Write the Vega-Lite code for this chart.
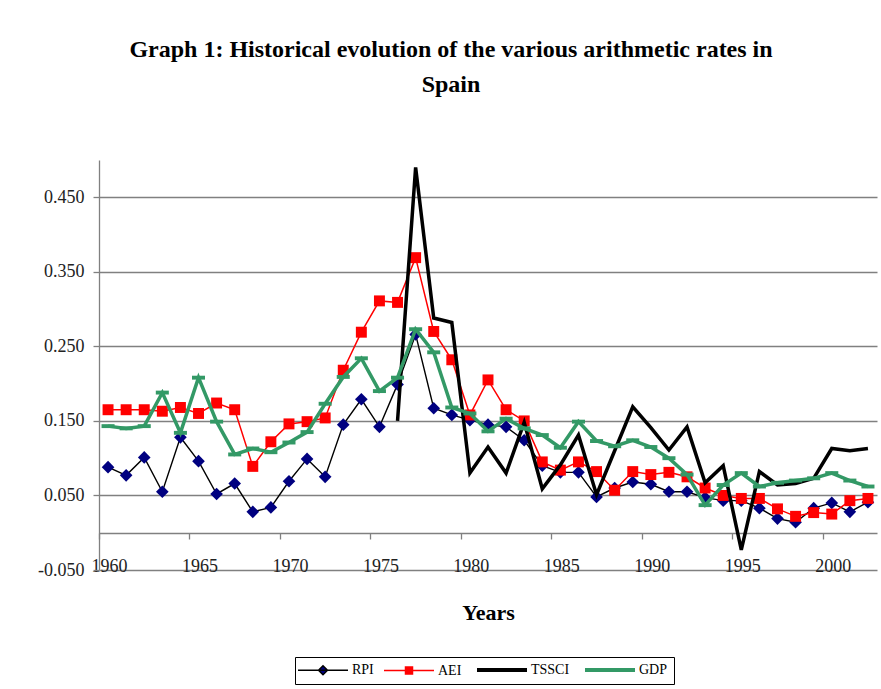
{
  "$schema": "https://vega.github.io/schema/vega-lite/v6.json",
  "width": 778,
  "height": 410,
  "autosize": {"type": "none"},
  "padding": {"left": 99, "top": 160, "right": 4, "bottom": 119},
  "background": "white",
  "title": {
    "text": ["Graph 1: Historical evolution of the various arithmetic rates in", "Spain"],
    "font": "Liberation Serif", "fontSize": 24, "fontWeight": "bold", "color": "#000000",
    "anchor": "middle", "frame": "group", "dx": -37, "offset": 63, "lineHeight": 35
  },
  "config": {"view": {"stroke": null}},
  "data": {
    "values": [
      {"year": 1960, "RPI": 0.088, "AEI": 0.165, "TSSCI": null, "GDP": 0.143},
      {"year": 1961, "RPI": 0.077, "AEI": 0.165, "TSSCI": null, "GDP": 0.140},
      {"year": 1962, "RPI": 0.101, "AEI": 0.165, "TSSCI": null, "GDP": 0.143},
      {"year": 1963, "RPI": 0.055, "AEI": 0.163, "TSSCI": null, "GDP": 0.188},
      {"year": 1964, "RPI": 0.128, "AEI": 0.168, "TSSCI": null, "GDP": 0.134},
      {"year": 1965, "RPI": 0.096, "AEI": 0.160, "TSSCI": null, "GDP": 0.208},
      {"year": 1966, "RPI": 0.052, "AEI": 0.174, "TSSCI": null, "GDP": 0.149},
      {"year": 1967, "RPI": 0.066, "AEI": 0.165, "TSSCI": null, "GDP": 0.105},
      {"year": 1968, "RPI": 0.028, "AEI": 0.089, "TSSCI": null, "GDP": 0.113},
      {"year": 1969, "RPI": 0.034, "AEI": 0.122, "TSSCI": null, "GDP": 0.108},
      {"year": 1970, "RPI": 0.069, "AEI": 0.146, "TSSCI": null, "GDP": 0.121},
      {"year": 1971, "RPI": 0.099, "AEI": 0.149, "TSSCI": null, "GDP": 0.135},
      {"year": 1972, "RPI": 0.075, "AEI": 0.154, "TSSCI": null, "GDP": 0.173},
      {"year": 1973, "RPI": 0.145, "AEI": 0.218, "TSSCI": null, "GDP": 0.209},
      {"year": 1974, "RPI": 0.179, "AEI": 0.269, "TSSCI": null, "GDP": 0.234},
      {"year": 1975, "RPI": 0.142, "AEI": 0.311, "TSSCI": null, "GDP": 0.190},
      {"year": 1976, "RPI": 0.199, "AEI": 0.309, "TSSCI": 0.150, "GDP": 0.208},
      {"year": 1977, "RPI": 0.266, "AEI": 0.369, "TSSCI": 0.490, "GDP": 0.273},
      {"year": 1978, "RPI": 0.167, "AEI": 0.270, "TSSCI": 0.288, "GDP": 0.242},
      {"year": 1979, "RPI": 0.158, "AEI": 0.232, "TSSCI": 0.282, "GDP": 0.168},
      {"year": 1980, "RPI": 0.151, "AEI": 0.158, "TSSCI": 0.080, "GDP": 0.160},
      {"year": 1981, "RPI": 0.145, "AEI": 0.205, "TSSCI": 0.115, "GDP": 0.136},
      {"year": 1982, "RPI": 0.142, "AEI": 0.165, "TSSCI": 0.080, "GDP": 0.153},
      {"year": 1983, "RPI": 0.124, "AEI": 0.150, "TSSCI": 0.148, "GDP": 0.140},
      {"year": 1984, "RPI": 0.090, "AEI": 0.095, "TSSCI": 0.059, "GDP": 0.131},
      {"year": 1985, "RPI": 0.081, "AEI": 0.084, "TSSCI": 0.091, "GDP": 0.114},
      {"year": 1986, "RPI": 0.081, "AEI": 0.095, "TSSCI": 0.131, "GDP": 0.149},
      {"year": 1987, "RPI": 0.048, "AEI": 0.082, "TSSCI": 0.051, "GDP": 0.123},
      {"year": 1988, "RPI": 0.060, "AEI": 0.057, "TSSCI": 0.110, "GDP": 0.116},
      {"year": 1989, "RPI": 0.068, "AEI": 0.082, "TSSCI": 0.169, "GDP": 0.124},
      {"year": 1990, "RPI": 0.065, "AEI": 0.078, "TSSCI": 0.141, "GDP": 0.115},
      {"year": 1991, "RPI": 0.055, "AEI": 0.081, "TSSCI": 0.111, "GDP": 0.100},
      {"year": 1992, "RPI": 0.055, "AEI": 0.075, "TSSCI": 0.142, "GDP": 0.078},
      {"year": 1993, "RPI": 0.047, "AEI": 0.060, "TSSCI": 0.067, "GDP": 0.037},
      {"year": 1994, "RPI": 0.043, "AEI": 0.050, "TSSCI": 0.090, "GDP": 0.064},
      {"year": 1995, "RPI": 0.043, "AEI": 0.046, "TSSCI": -0.023, "GDP": 0.080},
      {"year": 1996, "RPI": 0.033, "AEI": 0.046, "TSSCI": 0.082, "GDP": 0.062},
      {"year": 1997, "RPI": 0.019, "AEI": 0.032, "TSSCI": 0.064, "GDP": 0.067},
      {"year": 1998, "RPI": 0.014, "AEI": 0.022, "TSSCI": 0.066, "GDP": 0.070},
      {"year": 1999, "RPI": 0.033, "AEI": 0.027, "TSSCI": 0.073, "GDP": 0.073},
      {"year": 2000, "RPI": 0.040, "AEI": 0.025, "TSSCI": 0.113, "GDP": 0.080},
      {"year": 2001, "RPI": 0.028, "AEI": 0.043, "TSSCI": 0.110, "GDP": 0.070},
      {"year": 2002, "RPI": 0.041, "AEI": 0.046, "TSSCI": 0.113, "GDP": 0.062}
    ]
  },
  "transform": [{"fold": ["RPI", "AEI", "TSSCI", "GDP"], "as": ["series", "value"]}],
  "encoding": {
    "x": {
      "field": "year", "type": "quantitative",
      "scale": {"domain": [1959.5, 2002.5], "nice": false, "zero": false},
      "axis": {
        "title": "Years",
        "values": [1959.5, 1964.5, 1969.5, 1974.5, 1979.5, 1984.5, 1989.5, 1994.5, 1999.5],
        "labelExpr": "'' + (datum.value + 0.5)",
        "offset": -37, "grid": false,
        "domainColor": "#808080", "domainWidth": 1.3,
        "tickColor": "#808080", "tickWidth": 1.3, "tickSize": 6,
        "labelOffset": 10, "labelPadding": 18, "labelFlush": false, "labelOverlap": false,
        "labelFont": "Liberation Serif", "labelFontSize": 18, "labelColor": "#222222",
        "titleFont": "Liberation Serif", "titleFontSize": 22, "titleFontWeight": "bold",
        "titleColor": "#000000", "titlePadding": 27
      }
    },
    "y": {
      "field": "value", "type": "quantitative",
      "scale": {"domain": [-0.05, 0.5], "nice": false, "zero": false},
      "axis": {
        "title": null,
        "values": [-0.05, 0.05, 0.15, 0.25, 0.35, 0.45],
        "labelExpr": "datum.value < 0 ? '-' + format(-datum.value, '.3f') : format(datum.value, '.3f')",
        "grid": true, "gridColor": "#808080", "gridWidth": 1.3,
        "domainColor": "#808080", "domainWidth": 1.3,
        "tickColor": "#808080", "tickWidth": 1.3, "tickSize": 6,
        "labelFont": "Liberation Serif", "labelFontSize": 18, "labelColor": "#222222",
        "labelPadding": 9
      }
    }
  },
  "layer": [
    {
      "transform": [{"filter": "datum.series === 'RPI'"}],
      "mark": {"type": "line", "strokeWidth": 1.4},
      "encoding": {
        "color": {
          "field": "series", "type": "nominal",
          "scale": {"domain": ["RPI", "AEI", "TSSCI", "GDP"], "range": ["#000000", "#FF0000", "#000000", "#339966"]},
          "legend": {
            "orient": "none", "legendX": 196, "legendY": 497,
            "direction": "horizontal", "title": null,
            "symbolSize": 400, "symbolStrokeWidth": 1.5,
            "labelFont": "Liberation Serif", "labelFontSize": 14, "labelColor": "#000000",
            "labelOffset": 37, "columnPadding": 7, "padding": 6,
            "strokeColor": "#000000", "fillColor": "#ffffff",
            "encode": {
              "symbols": {
                "update": {
                  "shape": {"signal": "datum.value === 'RPI' ? 'M-1,0H4M1.5,-0.45L1.95,0L1.5,0.45L1.05,0Z' : datum.value === 'AEI' ? 'M-1,0H4M1.15,-0.35H1.85V0.35H1.15Z' : 'M-1,0H4'"},
                  "fill": {"signal": "datum.value === 'RPI' ? '#000080' : datum.value === 'AEI' ? '#FF0000' : 'transparent'"},
                  "stroke": {"signal": "datum.value === 'RPI' ? '#000033' : datum.value === 'AEI' ? '#FF0000' : datum.value === 'TSSCI' ? '#000000' : '#339966'"},
                  "strokeWidth": {"signal": "datum.value === 'TSSCI' || datum.value === 'GDP' ? 4 : 1.5"},
                  "opacity": {"value": 1}
                }
              }
            }
          }
        }
      }
    },
    {
      "transform": [{"filter": "datum.series === 'RPI'"}],
      "mark": {"type": "point", "shape": "diamond", "filled": true, "size": 160, "color": "#000080", "opacity": 1}
    },
    {
      "transform": [{"filter": "datum.series === 'AEI'"}],
      "mark": {"type": "line", "strokeWidth": 1.5},
      "encoding": {"color": {"field": "series", "type": "nominal"}}
    },
    {
      "transform": [{"filter": "datum.series === 'AEI'"}],
      "mark": {"type": "point", "shape": "square", "filled": true, "size": 120, "color": "#FF0000", "opacity": 1}
    },
    {
      "transform": [{"filter": "datum.series === 'TSSCI'"}],
      "mark": {"type": "line", "strokeWidth": 3.5},
      "encoding": {"color": {"field": "series", "type": "nominal"}}
    },
    {
      "transform": [{"filter": "datum.series === 'GDP'"}],
      "mark": {"type": "line", "strokeWidth": 3.5},
      "encoding": {"color": {"field": "series", "type": "nominal"}}
    },
    {
      "transform": [{"filter": "datum.series === 'GDP'"}],
      "mark": {"type": "point", "shape": "M-1,-0.3H1V0.3H-1Z", "filled": true, "size": 170, "color": "#339966", "opacity": 1}
    }
  ]
}
